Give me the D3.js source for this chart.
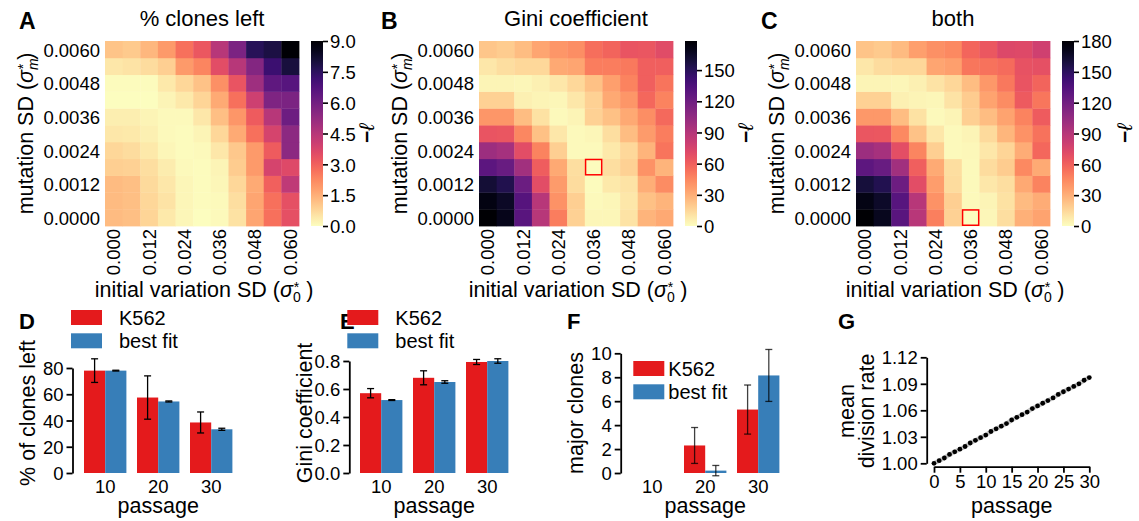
<!DOCTYPE html>
<html><head><meta charset="utf-8">
<script src="https://cdn.jsdelivr.net/npm/d3@7"></script>
<style>
body{margin:0;background:#fff}
svg text{font-family:"Liberation Sans",Arial,Helvetica,sans-serif;fill:#000}
</style>
</head><body>
<svg id="fig" width="1139" height="521"></svg>
<script>
// ---------- DATA ----------
const sigma0 = [0.000,0.006,0.012,0.018,0.024,0.030,0.036,0.042,0.048,0.054,0.060];
const sigmaM = [0.0000,0.0006,0.0012,0.0018,0.0024,0.0030,0.0036,0.0042,0.0048,0.0054,0.0060];
const sigma0Ticks = [0.000,0.012,0.024,0.036,0.048,0.060];
const sigmaMTicks = [0.0000,0.0012,0.0024,0.0036,0.0048,0.0060];
// rows: index 0 = sigmaM 0.0000 (bottom) ... index 10 = 0.0060 (top)
const clonesLeftNLL = [
  [1.3,1.2,0.8,0.4,0.15,0.0,0.1,0.55,1.7,2.7,3.4],
  [1.3,1.2,0.75,0.5,0.15,0.05,0.1,0.6,1.7,2.7,3.4],
  [1.3,1.2,0.7,0.45,0.15,0.05,0.15,0.75,1.6,3.0,4.3],
  [0.9,0.85,0.6,0.35,0.1,0.05,0.2,0.95,1.9,3.8,3.6],
  [0.75,0.65,0.4,0.15,0.05,0.1,0.45,1.05,1.9,3.1,5.4],
  [0.45,0.4,0.25,0.1,0.05,0.2,0.75,1.6,2.7,3.8,5.4],
  [0.3,0.3,0.2,0.1,0.1,0.45,1.2,2.0,3.1,4.5,6.1],
  [0.02,0.01,0.01,0.2,0.4,0.8,1.6,2.7,4.0,5.7,5.8],
  [0.05,0.05,0.05,0.4,0.75,1.15,2.1,3.3,5.0,6.4,6.6],
  [0.45,0.5,0.65,0.9,1.9,2.3,3.5,4.5,5.6,7.2,8.0],
  [1.1,1.0,1.35,1.9,2.7,3.2,4.5,5.8,7.6,7.9,9.0]
];
const giniNLL = [
  [178,169,130,89,48,17,3,3,10,28,32],
  [172,165,131,89,41,18,2,3,9,23,28],
  [160,153,121,69,37,13,1,8,10,30,43],
  [128,123,98,61,32,12,1,12,17,41,28],
  [100,96,69,46,18,2,2,8,14,28,52],
  [65,64,45,23,9,2,3,12,25,37,48],
  [39,39,25,11,2,4,17,23,32,42,56],
  [17,17,5,4,3,9,17,32,39,57,46],
  [4,4,3,5,9,14,23,36,46,60,52],
  [9,12,14,14,32,34,48,48,50,60,60],
  [21,19,25,34,39,42,54,58,65,64,70]
];
const bothNLL = [
  [180,170,131,89,48,17,0.5,3,12,30,35],
  [173,166,132,90,41,18,2,4,11,26,31],
  [161,154,122,70,37,13,2,9,12,33,47],
  [129,124,99,61,32,12,1.5,13,19,45,32],
  [101,97,69,46,18,2,2.5,9,16,31,57],
  [65,64,45,23,9,2,4,14,28,41,53],
  [39,39,25,11,2,4,18,25,35,47,62],
  [17,17,5,4,3,10,19,35,43,63,52],
  [4,4,3,5,10,15,25,39,51,66,59],
  [9,13,15,15,34,36,52,53,56,67,68],
  [22,20,26,36,42,45,58,64,73,72,79]
];
const cbTicksA = [0,1.5,3.0,4.5,6.0,7.5,9.0];
const cbTicksB = [0,30,60,90,120,150];
const cbTicksC = [0,30,60,90,120,150,180];
const bestB = {s0:0.036, sm:0.0018};
const bestC = {s0:0.036, sm:0.0000};

const passages = [10,20,30];
const seriesNames = ["K562","best fit"];
const clonesK562 = [78,57.5,38.5], clonesK562Err = [9,16.5,8];
const clonesFit = [78,54.5,33.3], clonesFitErr = [0.3,0.4,0.8];
const giniK562 = [0.57,0.68,0.793], giniK562Err = [0.033,0.05,0.018];
const giniFit = [0.521,0.65,0.80], giniFitErr = [0.003,0.009,0.016];
const majorK562 = [0,2.3,5.3], majorK562Err = [0,1.5,2.05];
const majorFit = [0,0.2,8.15], majorFitErr = [0,0.43,2.17];

const gPassage = [0,1,2,3,4,5,6,7,8,9,10,11,12,13,14,15,16,17,18,19,20,21,22,23,24,25,26,27,28,29,30];
const gRate = [1.000,1.003,1.006,1.010,1.013,1.016,1.019,1.023,1.026,1.029,1.032,1.036,1.039,1.042,1.045,1.049,1.052,1.055,1.058,1.062,1.065,1.068,1.071,1.074,1.078,1.081,1.084,1.087,1.090,1.094,1.097];
const gXTicks = [0,5,10,15,20,25,30];
const gYTicks = [1.00,1.03,1.06,1.09,1.12];

const RED = "#e41a1c", BLUE = "#377eb8";
const TICK_FS = 18.5, LABEL_FS = 21.5;

// ---------- DRAW ----------
const svg = d3.select("#fig");
let gradId = 0;

function sigmaLabel(textSel, base, sub) {
  textSel.append("tspan").text(base + " (");
  textSel.append("tspan").attr("font-style","italic").text("σ");
  textSel.append("tspan").attr("font-size",14).attr("dy",5).attr("font-style", sub==="m"?"italic":"normal").text(sub);
  textSel.append("tspan").attr("font-size",14).attr("dx", sub==="m"?-11:-7).attr("dy",-10.5).text("*");
  textSel.append("tspan").attr("dx", sub==="m"?4:7).attr("dy",5.5).text(")");
}

function heatmap(cfg) {
  const W = 194, H = 185;
  const g = svg.append("g");
  const x = d3.scaleBand().domain(sigma0).range([cfg.left, cfg.left + W]);
  const y = d3.scaleBand().domain(sigmaM).range([cfg.top + H, cfg.top]);
  const color = d3.scaleSequential(t => d3.interpolateMagma(1 - t)).domain([0, cfg.max]);
  const cells = [];
  cfg.data.forEach((row, i) => row.forEach((v, j) => cells.push({sm: sigmaM[i], s0: sigma0[j], v})));
  g.selectAll("rect.cell").data(cells).join("rect").attr("class","cell")
    .attr("x", d => x(d.s0)).attr("y", d => y(d.sm))
    .attr("width", x.bandwidth() + 0.4).attr("height", y.bandwidth() + 0.4)
    .attr("fill", d => color(d.v));
  if (cfg.best) {
    g.append("rect").attr("x", x(cfg.best.s0) + 0.75).attr("y", y(cfg.best.sm) + 0.75)
      .attr("width", x.bandwidth() - 1.5).attr("height", y.bandwidth() - 1.5)
      .attr("fill","none").attr("stroke","#ff0000").attr("stroke-width",1.5);
  }
  // x axis
  const xa = g.append("g").attr("transform", `translate(0,${cfg.top + H})`)
    .call(d3.axisBottom(x).tickValues(sigma0Ticks).tickFormat(d3.format(".3f")).tickSize(0));
  xa.select(".domain").remove();
  xa.selectAll("text").attr("font-size", TICK_FS).attr("font-family", null)
    .attr("transform","rotate(-90)").attr("text-anchor","end")
    .attr("x", -3).attr("y", 0).attr("dy","0.35em");
  // y axis
  const ya = g.append("g").attr("transform", `translate(${cfg.left},0)`)
    .call(d3.axisLeft(y).tickValues(sigmaMTicks).tickFormat(d3.format(".4f")).tickSize(0).tickPadding(5));
  ya.select(".domain").remove();
  ya.selectAll("text").attr("font-size", TICK_FS).attr("font-family", null).attr("dy","0.4em");
  // colorbar
  const cbW = 12;
  const id = "grad" + (gradId++);
  const grad = svg.append("defs").append("linearGradient").attr("id", id)
    .attr("x1","0").attr("y1","1").attr("x2","0").attr("y2","0");
  d3.range(0, 1.0001, 0.05).forEach(t => grad.append("stop").attr("offset", t).attr("stop-color", color(t * cfg.max)));
  g.append("rect").attr("x", cfg.cbLeft).attr("y", cfg.top).attr("width", cbW).attr("height", H).attr("fill", `url(#${id})`);
  const cbScale = d3.scaleLinear().domain([0, cfg.max]).range([cfg.top + H, cfg.top]);
  const ca = g.append("g").attr("transform", `translate(${cfg.cbLeft + cbW},0)`)
    .call(d3.axisRight(cbScale).tickValues(cfg.cbTicks).tickFormat(cfg.cbFmt).tickSize(5).tickPadding(2));
  ca.select(".domain").remove();
  ca.selectAll("line").attr("stroke-width",1.6);
  ca.selectAll("text").attr("font-size", TICK_FS).attr("font-family", null).attr("dy","0.36em");
  // -l label
  const ll = g.append("text").attr("transform", `translate(${cfg.llX},${cfg.top + H/2}) rotate(-90)`)
    .attr("text-anchor","middle").attr("dy","0.35em").attr("font-size",21).attr("font-weight","bold");
  ll.append("tspan").text("−");
  ll.append("tspan").attr("font-style","italic").attr("font-weight","normal").text("ℓ");
  // title
  g.append("text").attr("x", cfg.left + W/2).attr("y", 26).attr("text-anchor","middle").attr("font-size",22).text(cfg.title);
  g.append("text").attr("x", cfg.letterX).attr("y", 29).attr("font-size",23).attr("font-weight","bold").text(cfg.letter);
  // axis titles
  const xt = g.append("text").attr("x", cfg.left + W/2 + 2).attr("y", 297).attr("text-anchor","middle").attr("font-size", LABEL_FS);
  sigmaLabel(xt, "initial variation SD", "0");
  const yt = g.append("text").attr("transform", `translate(${cfg.left - 72},${cfg.top + H/2}) rotate(-90)`)
    .attr("text-anchor","middle").attr("font-size", LABEL_FS);
  sigmaLabel(yt, "mutation SD", "m");
}

heatmap({left:105, top:41, data:clonesLeftNLL, max:9, cbLeft:311, cbTicks:cbTicksA, cbFmt:d3.format(".1f"),
  llX:367, title:"% clones left", letter:"A", letterX:19});
heatmap({left:479, top:41, data:giniNLL, max:178, cbLeft:685, cbTicks:cbTicksB, cbFmt:d3.format("d"),
  llX:746, title:"Gini coefficient", letter:"B", letterX:381, best:bestB});
heatmap({left:856, top:41, data:bothNLL, max:180, cbLeft:1062, cbTicks:cbTicksC, cbFmt:d3.format("d"),
  llX:1125, title:"both", letter:"C", letterX:761, best:bestC});

// ---------- BAR PANELS ----------
function barPanel(cfg) {
  const g = svg.append("g");
  g.append("text").attr("x", cfg.letterX).attr("y", 329).attr("font-size",22).attr("font-weight","bold").text(cfg.letter);
  const x = d3.scaleBand().domain(passages).range([cfg.x0, cfg.x0 + 159]).paddingInner(0.2).paddingOuter(0.1);
  const xs = d3.scaleBand().domain(seriesNames).range([0, x.bandwidth()]);
  const y = d3.scaleLinear().domain([0, cfg.max]).range([473, cfg.yTop]);
  const series = [
    {name:"K562", vals:cfg.red, errs:cfg.redErr, color:RED},
    {name:"best fit", vals:cfg.blue, errs:cfg.blueErr, color:BLUE}
  ];
  const bars = [];
  series.forEach(s => passages.forEach((p, i) => bars.push({p, s:s.name, v:s.vals[i], e:s.errs[i], color:s.color})));
  g.selectAll("rect.bar").data(bars.filter(d => d.v > 0)).join("rect").attr("class","bar")
    .attr("x", d => x(d.p) + xs(d.s)).attr("width", xs.bandwidth())
    .attr("y", d => y(d.v)).attr("height", d => y(0) - y(d.v)).attr("fill", d => d.color);
  const eb = bars.filter(d => d.e > 0);
  const cx = d => x(d.p) + xs(d.s) + xs.bandwidth()/2;
  g.selectAll("line.eb").data(eb).join("line").attr("class","eb")
    .attr("x1", cx).attr("x2", cx).attr("y1", d => y(d.v - d.e)).attr("y2", d => y(d.v + d.e))
    .attr("stroke", cfg.errColor).attr("stroke-width",1.3);
  [-1, 1].forEach(sg => {
    g.selectAll("line.cap" + sg).data(eb).join("line").attr("class","cap" + sg)
      .attr("x1", d => cx(d) - 3.5).attr("x2", d => cx(d) + 3.5)
      .attr("y1", d => y(d.v + sg * d.e)).attr("y2", d => y(d.v + sg * d.e))
      .attr("stroke", cfg.errColor).attr("stroke-width",1.3);
  });
  // y axis
  const ya = g.append("g").attr("transform", `translate(${cfg.spineX},0)`)
    .call(d3.axisLeft(y).tickValues(cfg.yTicks).tickFormat(cfg.fmt).tickSize(6).tickPadding(3).tickSizeOuter(0));
  ya.selectAll("path,line").attr("stroke-width",1.8);
  ya.selectAll("text").attr("font-size", TICK_FS).attr("font-family", null).attr("dy","0.36em");
  // x labels
  const xa = g.append("g").attr("transform", "translate(0,473)")
    .call(d3.axisBottom(x).tickSize(0).tickPadding(7));
  xa.select(".domain").remove();
  xa.selectAll("text").attr("font-size", TICK_FS).attr("font-family", null);
  g.append("text").attr("x", cfg.x0 + 79.5).attr("y", 513).attr("text-anchor","middle").attr("font-size", LABEL_FS).text("passage");
  g.append("text").attr("transform", `translate(${cfg.spineX - 45},413) rotate(-90)`)
    .attr("text-anchor","middle").attr("dy","0.35em").attr("font-size", LABEL_FS).text(cfg.ylabel);
  // legend
  series.forEach((s, i) => {
    g.append("rect").attr("x", cfg.legX).attr("y", cfg.legY + i * 23.3).attr("width",31).attr("height",15).attr("fill", s.color);
    g.append("text").attr("x", cfg.legX + cfg.legTextDx).attr("y", cfg.legY + 15 + i * 22.5).attr("font-size",20).text(s.name);
  });
}

barPanel({letter:"D", letterX:19, x0:78.7, spineX:72.5, max:80, yTop:368, yTicks:[0,20,40,60,80], fmt:d3.format("d"),
  red:clonesK562, redErr:clonesK562Err, blue:clonesFit, blueErr:clonesFitErr, errColor:"#000",
  ylabel:"% of clones left", legX:71, legY:310, legTextDx:48});
barPanel({letter:"E", letterX:340, x0:354.7, spineX:349.3, max:0.8, yTop:361, yTicks:[0,0.2,0.4,0.6,0.8], fmt:d3.format(".1f"),
  red:giniK562, redErr:giniK562Err, blue:giniFit, blueErr:giniFitErr, errColor:"#000",
  ylabel:"Gini coefficient", legX:347.3, legY:310, legTextDx:48});
barPanel({letter:"F", letterX:567, x0:625.7, spineX:620.7, max:10, yTop:353.3, yTicks:[0,2,4,6,8,10], fmt:d3.format("d"),
  red:majorK562, redErr:majorK562Err, blue:majorFit, blueErr:majorFitErr, errColor:"rgba(0,0,0,0.75)",
  ylabel:"major clones", legX:633.3, legY:361, legTextDx:35});

// ---------- PANEL G ----------
(function(){
  const g = svg.append("g");
  g.append("text").attr("x", 838).attr("y", 329).attr("font-size",22).attr("font-weight","bold").text("G");
  const x = d3.scaleLinear().domain([0,30]).range([934, 1089.3]);
  const y = d3.scaleLinear().domain([1.00,1.12]).range([463.3, 357.3]);
  const pts = gPassage.map((p, i) => ({p, r: gRate[i]}));
  g.append("path").datum(pts).attr("fill","none").attr("stroke","#c8c8c8").attr("stroke-width",4.5)
    .attr("d", d3.line().x(d => x(d.p)).y(d => y(d.r)));
  g.selectAll("circle").data(pts).join("circle").attr("cx", d => x(d.p)).attr("cy", d => y(d.r)).attr("r",2.4).attr("fill","#000");
  const ya = g.append("g").attr("transform","translate(926.7,0)")
    .call(d3.axisLeft(y).tickValues(gYTicks).tickFormat(d3.format(".2f")).tickSize(6).tickPadding(3).tickSizeOuter(0));
  ya.selectAll("path,line").attr("stroke-width",1.8);
  ya.selectAll("text").attr("font-size", TICK_FS).attr("font-family", null).attr("dy","0.36em");
  const xa = g.append("g").attr("transform","translate(0,466.7)")
    .call(d3.axisBottom(x).tickValues(gXTicks).tickFormat(d3.format("d")).tickSize(6).tickPadding(2).tickSizeOuter(0));
  xa.selectAll("path,line").attr("stroke-width",1.8);
  xa.selectAll("text").attr("font-size", TICK_FS).attr("font-family", null);
  g.append("text").attr("x", 1011.7).attr("y", 513).attr("text-anchor","middle").attr("font-size", LABEL_FS).text("passage");
  g.append("text").attr("transform","translate(846,411) rotate(-90)").attr("text-anchor","middle").attr("dy","0.35em").attr("font-size", LABEL_FS).text("mean");
  g.append("text").attr("transform","translate(866,411) rotate(-90)").attr("text-anchor","middle").attr("dy","0.35em").attr("font-size", LABEL_FS).text("division rate");
})();
</script>
</body></html>
